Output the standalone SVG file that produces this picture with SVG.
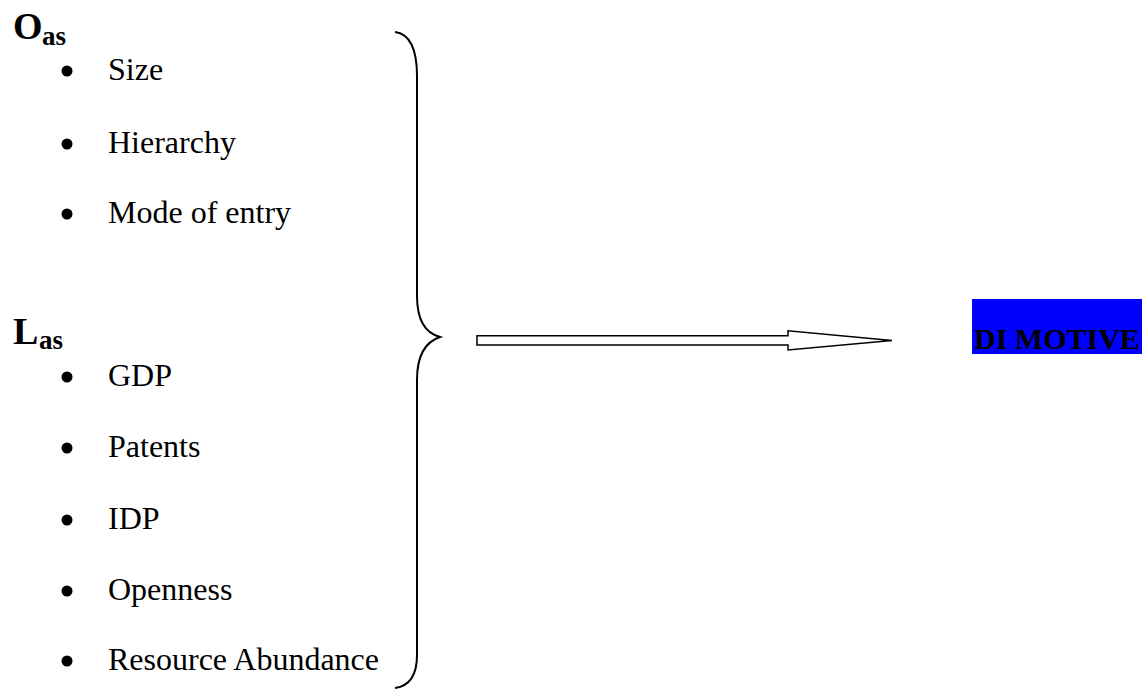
<svg xmlns="http://www.w3.org/2000/svg" width="1145" height="690" viewBox="0 0 1145 690">
<style>
.item{font-family:"Liberation Serif","Times New Roman",serif;font-size:32px;fill:#000}
.head{font-family:"Liberation Serif","Times New Roman",serif;font-weight:bold;fill:#000}
.dot{fill:#000}
.line{fill:none;stroke:#000;stroke-width:2}
</style>
<rect width="1145" height="690" fill="#fff"/>
<g id="oas">
<text class="head" x="13" y="39" font-size="38">O</text>
<text class="head" x="42" y="45" font-size="27">as</text>
<circle class="dot" cx="67" cy="71" r="5.5"/><text class="item" x="108" y="80">Size</text>
<circle class="dot" cx="67" cy="144" r="5.5"/><text class="item" x="108" y="153">Hierarchy</text>
<circle class="dot" cx="67" cy="214" r="5.5"/><text class="item" x="108" y="223">Mode of entry</text>
</g>
<g id="las">
<text class="head" x="13" y="344" font-size="38">L</text>
<text class="head" x="39" y="349" font-size="27">as</text>
<circle class="dot" cx="67" cy="377" r="5.5"/><text class="item" x="108" y="386">GDP</text>
<circle class="dot" cx="67" cy="448" r="5.5"/><text class="item" x="108" y="457">Patents</text>
<circle class="dot" cx="67" cy="520" r="5.5"/><text class="item" x="108" y="529">IDP</text>
<circle class="dot" cx="67" cy="591" r="5.5"/><text class="item" x="108" y="600">Openness</text>
<circle class="dot" cx="67" cy="661" r="5.5"/><text class="item" x="108" y="670">Resource Abundance</text>
</g>
<g id="connectors">
<path class="line" d="M395,32 C410,34 417,50 417,76 L417,296 C417,320 425,333 440,337 C425,342 417,355 417,380 L417,655 C417,675 410,686 395,688"/>
<polygon points="477,335.7 788,335.7 788,330.7 892,340.5 788,350 788,345 477,345" fill="#fff" stroke="#000" stroke-width="1.5"/>
</g>
<g id="dimotive">
<rect x="972" y="299" width="170" height="55" fill="#0000ff"/>
<text class="head" x="974" y="349" font-size="30">DI MOTIVE</text>
</g>
</svg>
